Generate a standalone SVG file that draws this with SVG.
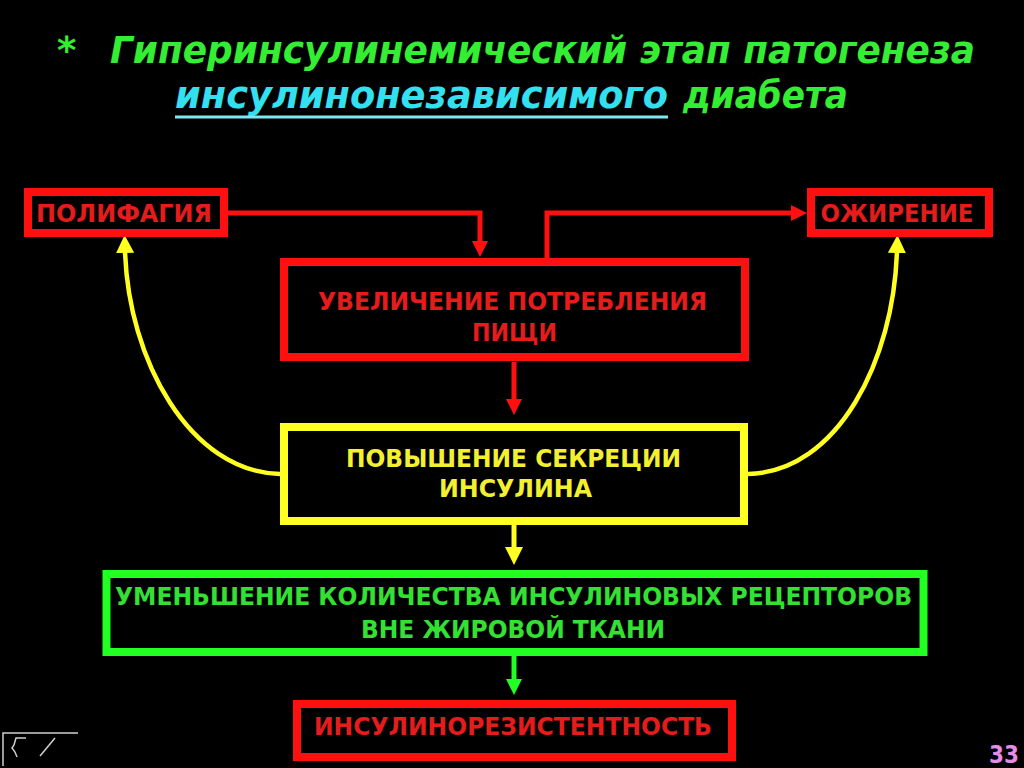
<svg xmlns="http://www.w3.org/2000/svg" width="1024" height="768" viewBox="0 0 1024 768">
<style>
.title{font-family:"DejaVu Sans","Liberation Sans",sans-serif;font-weight:bold;font-style:italic;font-size:37px}
.lbl{font-family:"DejaVu Sans","Liberation Sans",sans-serif;font-weight:bold;font-size:24px;text-anchor:middle}
.rbox{fill:#000;stroke:#ff1010;stroke-width:8}
.ybox{fill:#000;stroke:#ffff22;stroke-width:8}
.gbox{fill:#000;stroke:#22ff22;stroke-width:8}
.rt{fill:#e41c1c}
.yt{fill:#f2f030}
.gt{fill:#33e033}
.rl{fill:none;stroke:#ff1010;stroke-width:5}
.yl{fill:none;stroke:#ffff22;stroke-width:4.5}
.gl{fill:none;stroke:#22ff22;stroke-width:5}
.nav{fill:none;stroke:#cfcfcf;stroke-width:1.5}
</style>
<defs>
<marker id="ar" viewBox="0 0 16 16" markerWidth="16" markerHeight="16" markerUnits="userSpaceOnUse" refX="3" refY="8" orient="auto"><path d="M0,0 L16,8 L0,16 z" fill="#ff1010"/></marker>
<marker id="ay" viewBox="0 0 18 18" markerWidth="18" markerHeight="18" markerUnits="userSpaceOnUse" refX="3" refY="9" orient="auto"><path d="M0,0 L18,9 L0,18 z" fill="#ffff22"/></marker>
<marker id="ag" viewBox="0 0 16 16" markerWidth="16" markerHeight="16" markerUnits="userSpaceOnUse" refX="3" refY="8" orient="auto"><path d="M0,0 L16,8 L0,16 z" fill="#22ff22"/></marker>
</defs>
<rect x="0" y="0" width="1024" height="768" fill="#000"/>

<g id="title">
<text class="title" x="57" y="63" fill="#33ee33">*</text>
<text class="title" x="110" y="63" fill="#33ee33" textLength="865" lengthAdjust="spacingAndGlyphs">Гиперинсулинемический этап патогенеза</text>
<text class="title" x="175" y="108" fill="#33e0f0" textLength="493" lengthAdjust="spacingAndGlyphs">инсулинонезависимого</text>
<line x1="175" y1="117" x2="668" y2="117" stroke="#7ee8f0" stroke-width="3"/>
<text class="title" x="683" y="108" fill="#33ee33" textLength="165" lengthAdjust="spacingAndGlyphs">диабета</text>
</g>

<g id="connectors">
<polyline class="rl" points="228,213 480,213 480,244" marker-end="url(#ar)"/>
<polyline class="rl" points="547,262 547,213 794,213" marker-end="url(#ar)"/>
<line class="rl" x1="514" y1="362" x2="514" y2="402" marker-end="url(#ar)"/>
<path class="yl" d="M280,474 C190,472 128,360 125,250" marker-end="url(#ay)"/>
<path class="yl" d="M748,474 C838,472 894,360 897,250" marker-end="url(#ay)"/>
<line x1="514" y1="525" x2="514" y2="550" stroke="#ffff22" stroke-width="5" marker-end="url(#ay)"/>
<line class="gl" x1="514" y1="656" x2="514" y2="682" marker-end="url(#ag)"/>
</g>

<g id="node-polyfagia">
<rect class="rbox" x="28" y="192" width="196" height="41"/>
<text class="lbl rt" x="124" y="222" textLength="176" lengthAdjust="spacingAndGlyphs">ПОЛИФАГИЯ</text>
</g>
<g id="node-ozhirenie">
<rect class="rbox" x="811" y="192" width="178" height="41"/>
<text class="lbl rt" x="897" y="222" textLength="153" lengthAdjust="spacingAndGlyphs">ОЖИРЕНИЕ</text>
</g>
<g id="node-food">
<rect class="rbox" x="284" y="262" width="461" height="95" stroke-width="9"/>
<text class="lbl rt" x="512.5" y="310" textLength="389" lengthAdjust="spacingAndGlyphs">УВЕЛИЧЕНИЕ ПОТРЕБЛЕНИЯ</text>
<text class="lbl rt" x="514.5" y="341" textLength="85" lengthAdjust="spacingAndGlyphs">ПИЩИ</text>
</g>
<g id="node-insulin">
<rect class="ybox" x="284" y="427" width="460" height="94"/>
<text class="lbl yt" x="513.5" y="467" font-size="25" textLength="335" lengthAdjust="spacingAndGlyphs">ПОВЫШЕНИЕ СЕКРЕЦИИ</text>
<text class="lbl yt" x="515.5" y="497" font-size="25" textLength="153" lengthAdjust="spacingAndGlyphs">ИНСУЛИНА</text>
</g>
<g id="node-receptors">
<rect class="gbox" x="106.5" y="574" width="817" height="78"/>
<text class="lbl gt" x="513.5" y="605" textLength="797" lengthAdjust="spacingAndGlyphs">УМЕНЬШЕНИЕ КОЛИЧЕСТВА ИНСУЛИНОВЫХ РЕЦЕПТОРОВ</text>
<text class="lbl gt" x="513" y="638" textLength="304" lengthAdjust="spacingAndGlyphs">ВНЕ ЖИРОВОЙ ТКАНИ</text>
</g>
<g id="node-resistance">
<rect class="rbox" x="297" y="704" width="435" height="53"/>
<text class="lbl rt" x="513" y="735" font-size="27" textLength="398" lengthAdjust="spacingAndGlyphs">ИНСУЛИНОРЕЗИСТЕНТНОСТЬ</text>
</g>

<g id="footer">
<polyline class="nav" points="78,733 3,733 3,766"/>
<polyline class="nav" points="26,738 16,738 14,745 12,748 15,752 17,757"/>
<line class="nav" x1="40" y1="756" x2="55" y2="738"/>
<text x="989" y="763" font-family="DejaVu Sans, sans-serif" font-weight="bold" font-size="24" fill="#e48ce8" textLength="30" lengthAdjust="spacingAndGlyphs">33</text>
</g>
</svg>
